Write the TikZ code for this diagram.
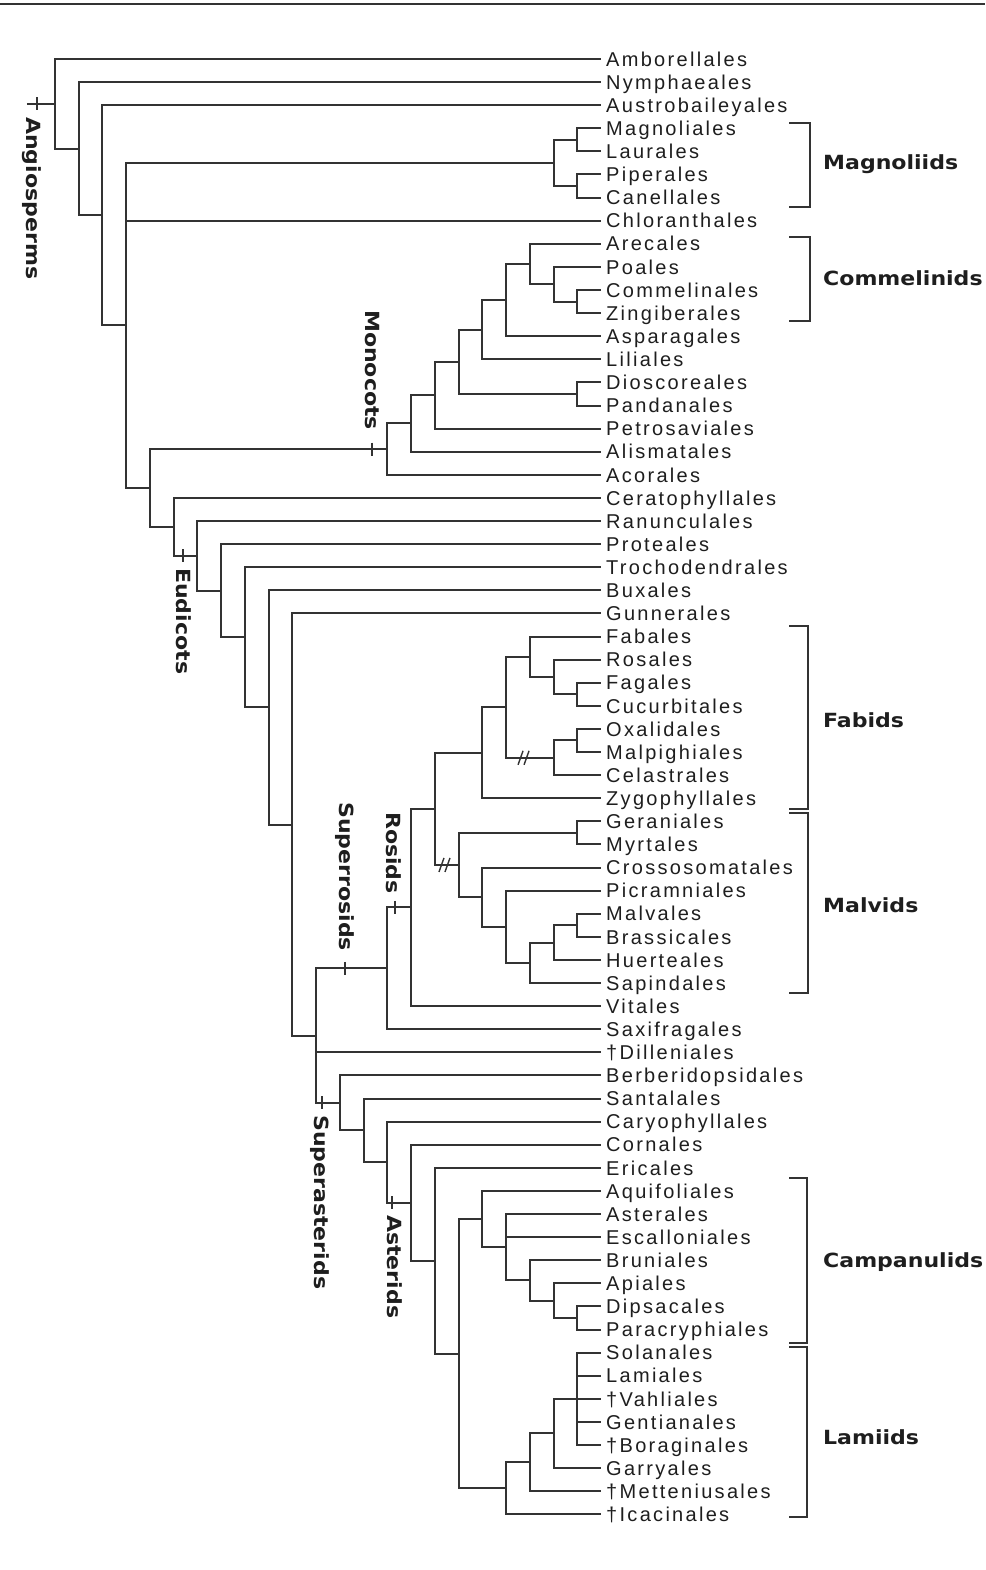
\documentclass[tikz,border=0pt]{standalone}
\usepackage{fontspec}
\setmainfont{Liberation Sans}
\newfontfamily\leaffont[LetterSpace=11.5]{Liberation Sans}
\newfontfamily\cladefont[FakeStretch=1.13]{DejaVu Sans}
\definecolor{linec}{HTML}{333333}
\definecolor{txtc}{HTML}{1E1E1E}
\tikzset{
  br/.style={draw=linec, line width=2pt},
  bracketline/.style={draw=linec, line width=1.8pt},
  tickmark/.style={draw=linec, line width=1.6pt},
  leaftext/.style={anchor=base west, inner sep=0pt, xshift=5pt, yshift=-7.2pt,
    font=\leaffont\fontsize{20}{20}\selectfont, text=txtc},
  cladetext/.style={anchor=base west, inner sep=0pt,
    font=\cladefont\bfseries\fontsize{19.5}{19.5}\selectfont, text=txtc},
  vlabel/.style={cladetext, rotate=-90},
}
\newcommand\lf[3]{\coordinate (#1) at (24,#2); \node[leaftext] (#1t) at (#1) {#3};}
\newcommand\ed[2]{\draw[br] (#1) |- (#2);}
\newcommand\tk[3]{\coordinate (#1) at (#2,#3); \draw[tickmark] ([yshift=6.5pt]#1) -- ([yshift=-6.5pt]#1);}
\newcommand\ds[3]{\coordinate (#1) at (#2,#3);
  \draw[tickmark,line width=1.4pt] ([xshift=-6pt,yshift=-7pt]#1) -- ([xshift=-1pt,yshift=7pt]#1);
  \draw[tickmark,line width=1.4pt] ([xshift=0pt,yshift=-7pt]#1) -- ([xshift=5pt,yshift=7pt]#1);}
\begin{document}
\begin{tikzpicture}[x=23.75pt,y=-23.1pt]
\fill[white] (-31pt,35.9pt) rectangle (954pt,-1534.1pt);
\useasboundingbox (-31pt,35.9pt) rectangle (954pt,-1534.1pt);
\draw[draw=linec,line width=1.8pt] (-31pt,31.9pt) -- (954pt,31.9pt);
% ---------- leaves
\lf{amb}{1}{Amborellales}
\lf{nym}{2}{Nymphaeales}
\lf{aus}{3}{Austrobaileyales}
\lf{mag}{4}{Magnoliales}
\lf{lau}{5}{Laurales}
\lf{pip}{6}{Piperales}
\lf{can}{7}{Canellales}
\lf{chl}{8}{Chloranthales}
\lf{are}{9}{Arecales}
\lf{poa}{10}{Poales}
\lf{com}{11}{Commelinales}
\lf{zin}{12}{Zingiberales}
\lf{asp}{13}{Asparagales}
\lf{lil}{14}{Liliales}
\lf{dio}{15}{Dioscoreales}
\lf{pan}{16}{Pandanales}
\lf{pet}{17}{Petrosaviales}
\lf{ali}{18}{Alismatales}
\lf{aco}{19}{Acorales}
\lf{cer}{20}{Ceratophyllales}
\lf{ran}{21}{Ranunculales}
\lf{pro}{22}{Proteales}
\lf{tro}{23}{Trochodendrales}
\lf{bux}{24}{Buxales}
\lf{gun}{25}{Gunnerales}
\lf{fab}{26}{Fabales}
\lf{ros}{27}{Rosales}
\lf{fag}{28}{Fagales}
\lf{cuc}{29}{Cucurbitales}
\lf{oxa}{30}{Oxalidales}
\lf{mal}{31}{Malpighiales}
\lf{cel}{32}{Celastrales}
\lf{zyg}{33}{Zygophyllales}
\lf{ger}{34}{Geraniales}
\lf{myr}{35}{Myrtales}
\lf{cro}{36}{Crossosomatales}
\lf{pic}{37}{Picramniales}
\lf{mlv}{38}{Malvales}
\lf{bra}{39}{Brassicales}
\lf{hue}{40}{Huerteales}
\lf{sap}{41}{Sapindales}
\lf{vit}{42}{Vitales}
\lf{sax}{43}{Saxifragales}
\lf{dil}{44}{†Dilleniales}
\lf{ber}{45}{Berberidopsidales}
\lf{san}{46}{Santalales}
\lf{car}{47}{Caryophyllales}
\lf{cor}{48}{Cornales}
\lf{eri}{49}{Ericales}
\lf{aqu}{50}{Aquifoliales}
\lf{ast}{51}{Asterales}
\lf{esc}{52}{Escalloniales}
\lf{bru}{53}{Bruniales}
\lf{api}{54}{Apiales}
\lf{dip}{55}{Dipsacales}
\lf{par}{56}{Paracryphiales}
\lf{sol}{57}{Solanales}
\lf{lam}{58}{Lamiales}
\lf{vah}{59}{†Vahliales}
\lf{gen}{60}{Gentianales}
\lf{bor}{61}{†Boraginales}
\lf{gar}{62}{Garryales}
\lf{met}{63}{†Metteniusales}
\lf{ica}{64}{†Icacinales}
% ---------- rows of internal nodes
\pgfmathsetmacro\rwMA{4.5}
\pgfmathsetmacro\rwMB{6.5}
\pgfmathsetmacro\rwMM{(\rwMA+\rwMB)/2}
\pgfmathsetmacro\rwCZ{11.5}
\pgfmathsetmacro\rwPCZ{(10+\rwCZ)/2}
\pgfmathsetmacro\rwAC{(9+\rwPCZ)/2}
\pgfmathsetmacro\rwQE{(\rwAC+13)/2}
\pgfmathsetmacro\rwQD{(\rwQE+14)/2}
\pgfmathsetmacro\rwDP{15.5}
\pgfmathsetmacro\rwQC{(\rwQD+\rwDP)/2}
\pgfmathsetmacro\rwQB{(\rwQC+17)/2}
\pgfmathsetmacro\rwQA{(\rwQB+18)/2}
\pgfmathsetmacro\rwQ{(\rwQA+19)/2}
% fabids
\pgfmathsetmacro\rwFC{28.5}
\pgfmathsetmacro\rwRFC{(27+\rwFC)/2}
\pgfmathsetmacro\rwFRF{(26+\rwRFC)/2}
\pgfmathsetmacro\rwOM{30.5}
\pgfmathsetmacro\rwOMC{(\rwOM+32)/2}
\pgfmathsetmacro\rwFA{(\rwFRF+\rwOMC)/2}
\pgfmathsetmacro\rwFF{(\rwFA+33)/2}
% malvids
\pgfmathsetmacro\rwGM{34.5}
\pgfmathsetmacro\rwMBR{38.5}
\pgfmathsetmacro\rwMAD{(\rwMBR+40)/2}
\pgfmathsetmacro\rwMAC{(\rwMAD+41)/2}
\pgfmathsetmacro\rwMAB{(37+\rwMAC)/2}
\pgfmathsetmacro\rwMAA{(36+\rwMAB)/2}
\pgfmathsetmacro\rwMAL{(\rwGM+\rwMAA)/2}
\pgfmathsetmacro\rwRA{(\rwFF+\rwMAL)/2}
\pgfmathsetmacro\rwRO{(\rwRA+42)/2}
\pgfmathsetmacro\rwSR{(\rwRO+43)/2}
% asterids
\pgfmathsetmacro\rwDPA{55.5}
\pgfmathsetmacro\rwCAC{(54+\rwDPA)/2}
\pgfmathsetmacro\rwCAB{(53+\rwCAC)/2}
\pgfmathsetmacro\rwCAA{(51+\rwCAB)/2}
\pgfmathsetmacro\rwCA{(50+\rwCAA)/2}
\pgfmathsetmacro\rwLAC{59}
\pgfmathsetmacro\rwLAB{(\rwLAC+62)/2}
\pgfmathsetmacro\rwLAA{(\rwLAB+63)/2}
\pgfmathsetmacro\rwLA{(\rwLAA+64)/2}
\pgfmathsetmacro\rwCL{(\rwCA+\rwLA)/2}
\pgfmathsetmacro\rwASA{(49+\rwCL)/2}
\pgfmathsetmacro\rwAS{(48+\rwASA)/2}
\pgfmathsetmacro\rwSAB{(47+\rwAS)/2}
\pgfmathsetmacro\rwSAA{(46+\rwSAB)/2}
\pgfmathsetmacro\rwSA{(45+\rwSAA)/2}
% backbone
\pgfmathsetmacro\rwNL{(\rwSR+\rwSA)/2}
\pgfmathsetmacro\rwNK{(25+\rwNL)/2}
\pgfmathsetmacro\rwNJ{(24+\rwNK)/2}
\pgfmathsetmacro\rwNI{(23+\rwNJ)/2}
\pgfmathsetmacro\rwNH{(22+\rwNI)/2}
\pgfmathsetmacro\rwNG{(21+\rwNH)/2}
\pgfmathsetmacro\rwNF{(20+\rwNG)/2}
\pgfmathsetmacro\rwNE{(\rwQ+\rwNF)/2}
\pgfmathsetmacro\rwND{(\rwMM+\rwNE)/2}
\pgfmathsetmacro\rwNC{(3+\rwND)/2}
\pgfmathsetmacro\rwNB{(2+\rwNC)/2}
\pgfmathsetmacro\rwNA{(1+\rwNB)/2}
% ---------- internal node coordinates
\coordinate (MA) at (23,\rwMA);
\coordinate (MB) at (23,\rwMB);
\coordinate (MM) at (22,\rwMM);
\coordinate (CZ) at (23,\rwCZ);
\coordinate (PCZ) at (22,\rwPCZ);
\coordinate (AC) at (21,\rwAC);
\coordinate (QE) at (20,\rwQE);
\coordinate (QD) at (19,\rwQD);
\coordinate (DP) at (23,\rwDP);
\coordinate (QC) at (18,\rwQC);
\coordinate (QB) at (17,\rwQB);
\coordinate (QA) at (16,\rwQA);
\coordinate (Q) at (15,\rwQ);
\coordinate (FC) at (23,\rwFC);
\coordinate (RFC) at (22,\rwRFC);
\coordinate (FRF) at (21,\rwFRF);
\coordinate (OM) at (23,\rwOM);
\coordinate (OMC) at (22,\rwOMC);
\coordinate (FA) at (20,\rwFA);
\coordinate (FF) at (19,\rwFF);
\coordinate (GM) at (23,\rwGM);
\coordinate (MBR) at (23,\rwMBR);
\coordinate (MAD) at (22,\rwMAD);
\coordinate (MAC) at (21,\rwMAC);
\coordinate (MAB) at (20,\rwMAB);
\coordinate (MAA) at (19,\rwMAA);
\coordinate (MAL) at (18,\rwMAL);
\coordinate (RA) at (17,\rwRA);
\coordinate (RO) at (16,\rwRO);
\coordinate (SR) at (15,\rwSR);
\coordinate (DPA) at (23,\rwDPA);
\coordinate (CAC) at (22,\rwCAC);
\coordinate (CAB) at (21,\rwCAB);
\coordinate (CAA) at (20,\rwCAA);
\coordinate (CA) at (19,\rwCA);
\coordinate (LAC) at (23,\rwLAC);
\coordinate (LAB) at (22,\rwLAB);
\coordinate (LAA) at (21,\rwLAA);
\coordinate (LA) at (20,\rwLA);
\coordinate (CL) at (18,\rwCL);
\coordinate (ASA) at (17,\rwASA);
\coordinate (AS) at (16,\rwAS);
\coordinate (SAB) at (15,\rwSAB);
\coordinate (SAA) at (14,\rwSAA);
\coordinate (SA) at (13,\rwSA);
\coordinate (NL) at (12,\rwNL);
\coordinate (NK) at (11,\rwNK);
\coordinate (NJ) at (10,\rwNJ);
\coordinate (NI) at (9,\rwNI);
\coordinate (NH) at (8,\rwNH);
\coordinate (NG) at (7,\rwNG);
\coordinate (NF) at (6,\rwNF);
\coordinate (NE) at (5,\rwNE);
\coordinate (ND) at (4,\rwND);
\coordinate (NC) at (3,\rwNC);
\coordinate (NB) at (2,\rwNB);
\coordinate (NA) at (1,\rwNA);
\coordinate (NAs) at (-0.17,\rwNA);
% ---------- branches
\draw[br] (NAs) -- (NA);
\ed{NA}{amb} \ed{NA}{NB}
\ed{NB}{nym} \ed{NB}{NC}
\ed{NC}{aus} \ed{NC}{ND}
\ed{ND}{MM} \ed{ND}{chl} \ed{ND}{NE}
\ed{MM}{MA} \ed{MM}{MB}
\ed{MA}{mag} \ed{MA}{lau} \ed{MB}{pip} \ed{MB}{can}
\ed{NE}{Q} \ed{NE}{NF}
\ed{Q}{QA} \ed{Q}{aco}
\ed{QA}{QB} \ed{QA}{ali}
\ed{QB}{QC} \ed{QB}{pet}
\ed{QC}{QD} \ed{QC}{DP}
\ed{DP}{dio} \ed{DP}{pan}
\ed{QD}{QE} \ed{QD}{lil}
\ed{QE}{AC} \ed{QE}{asp}
\ed{AC}{are} \ed{AC}{PCZ}
\ed{PCZ}{poa} \ed{PCZ}{CZ}
\ed{CZ}{com} \ed{CZ}{zin}
\ed{NF}{cer} \ed{NF}{NG}
\ed{NG}{ran} \ed{NG}{NH}
\ed{NH}{pro} \ed{NH}{NI}
\ed{NI}{tro} \ed{NI}{NJ}
\ed{NJ}{bux} \ed{NJ}{NK}
\ed{NK}{gun} \ed{NK}{NL}
\ed{NL}{SR} \ed{NL}{dil} \ed{NL}{SA}
\ed{SR}{RO} \ed{SR}{sax}
\ed{RO}{RA} \ed{RO}{vit}
\ed{RA}{FF} \ed{RA}{MAL}
\ed{FF}{FA} \ed{FF}{zyg}
\ed{FA}{FRF} \ed{FA}{OMC}
\ed{FRF}{fab} \ed{FRF}{RFC}
\ed{RFC}{ros} \ed{RFC}{FC}
\ed{FC}{fag} \ed{FC}{cuc}
\ed{OMC}{OM} \ed{OMC}{cel}
\ed{OM}{oxa} \ed{OM}{mal}
\ed{MAL}{GM} \ed{MAL}{MAA}
\ed{GM}{ger} \ed{GM}{myr}
\ed{MAA}{cro} \ed{MAA}{MAB}
\ed{MAB}{pic} \ed{MAB}{MAC}
\ed{MAC}{MAD} \ed{MAC}{sap}
\ed{MAD}{MBR} \ed{MAD}{hue}
\ed{MBR}{mlv} \ed{MBR}{bra}
\ed{SA}{ber} \ed{SA}{SAA}
\ed{SAA}{san} \ed{SAA}{SAB}
\ed{SAB}{car} \ed{SAB}{AS}
\ed{AS}{cor} \ed{AS}{ASA}
\ed{ASA}{eri} \ed{ASA}{CL}
\ed{CL}{CA} \ed{CL}{LA}
\ed{CA}{aqu} \ed{CA}{CAA}
\ed{CAA}{ast} \ed{CAA}{esc} \ed{CAA}{CAB}
\ed{CAB}{bru} \ed{CAB}{CAC}
\ed{CAC}{api} \ed{CAC}{DPA}
\ed{DPA}{dip} \ed{DPA}{par}
\ed{LA}{LAA} \ed{LA}{ica}
\ed{LAA}{LAB} \ed{LAA}{met}
\ed{LAB}{LAC} \ed{LAB}{gar}
\ed{LAC}{sol} \ed{LAC}{lam} \ed{LAC}{vah} \ed{LAC}{gen} \ed{LAC}{bor}
% ---------- ticks and double slashes
\tk{tkA}{0.25}{\rwNA}
\tk{tkM}{14.36}{\rwQ}
\tk{tkE}{6.4}{\rwNG}
\tk{tkS}{13.22}{\rwSR}
\tk{tkR}{15.33}{\rwRO}
\tk{tkP}{12.25}{\rwSA}
\tk{tkT}{15.2}{\rwAS}
\ds{dsA}{20.76}{\rwOMC}
\ds{dsB}{17.43}{\rwMAL}
% ---------- labels and brackets in pixel units
\begin{scope}[x=1pt,y=-1pt,shift={(-31pt,35.9pt)}]
\node[vlabel] (angio) at (26,117) {Angiosperms};
\node[vlabel] (mono) at (365,310) {Monocots};
\node[vlabel] (eudi) at (176.5,568) {Eudicots};
\node[vlabel] (superro) at (339,802) {Superrosids};
\node[vlabel] (rosid) at (386,812) {Rosids};
\node[vlabel] (supera) at (314.5,1115) {Superasterids};
\node[vlabel] (aster) at (387,1215) {Asterids};
\draw[bracketline] (789,123) -- (810,123) -- (810,207) -- (789,207);
\draw[bracketline] (789,237) -- (810,237) -- (810,321) -- (789,321);
\draw[bracketline] (789,626) -- (808,626) -- (808,809) -- (789,809);
\draw[bracketline] (789,813) -- (808,813) -- (808,993) -- (789,993);
\draw[bracketline] (789,1178) -- (807,1178) -- (807,1343) -- (789,1343);
\draw[bracketline] (789,1347) -- (807,1347) -- (807,1517) -- (789,1517);
\node[cladetext,yshift=-7pt] (magnoliids) at (823,163) {Magnoliids};
\node[cladetext,yshift=-7pt] (commelinids) at (823,278) {Commelinids};
\node[cladetext,yshift=-7pt] (fabids) at (823,720) {Fabids};
\node[cladetext,yshift=-7pt] (malvids) at (823,905) {Malvids};
\node[cladetext,yshift=-7pt] (campanulids) at (823,1260) {Campanulids};
\node[cladetext,yshift=-7pt] (lamiids) at (823,1437) {Lamiids};
\end{scope}
\end{tikzpicture}
\end{document}
